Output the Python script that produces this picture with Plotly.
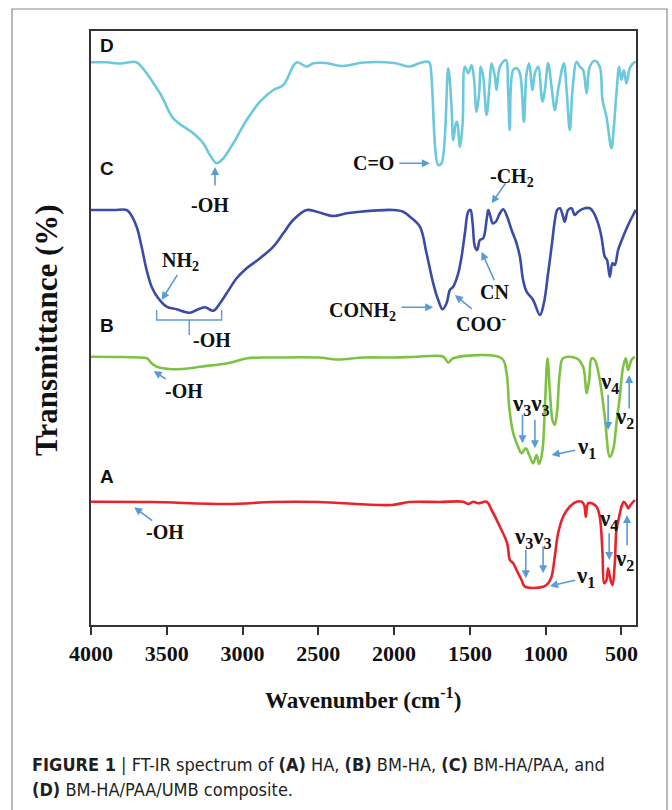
import plotly.graph_objects as go

# ---------------- data ----------------
# transmittance values are stacked/offset spectra in arbitrary units
wn_D = [4000, 3900, 3800, 3750, 3699, 3545, 3457, 3325, 3259, 3215, 3171, 3127, 3061, 2973, 2885, 2797,
        2731, 2643, 2577, 2533, 2450, 2336, 2200, 2000, 1896, 1830, 1775, 1764, 1709, 1687, 1643, 1621,
        1610, 1592, 1584, 1566, 1548, 1533, 1511, 1489, 1474, 1456, 1439, 1428, 1412, 1390, 1368, 1357,
        1335, 1324, 1302, 1263, 1248, 1237, 1215, 1192, 1170, 1144, 1126, 1109, 1087, 1071, 1050, 1021,
        1005, 984, 961, 939, 918, 880, 862, 841, 823, 796, 775, 753, 730, 709, 676, 643, 625, 599, 566,
        550, 533, 515, 500, 484, 467, 445, 423, 405]
T_D = [562.7, 562.7, 561.5, 562.7, 562.7, 531.7, 506.7, 491.7, 481.7, 470, 461.7, 466.7, 481.7, 505, 523.3, 535,
       540, 562.7, 558.3, 561.7, 562, 559, 562.5, 562, 558.5, 562, 563.3, 561.7, 460, 461.7, 556.7, 518.3,
       485, 501.7, 503.3, 478.3, 501.7, 558.3, 551.7, 560, 548.3, 513.3, 531.7, 558.3, 548.3, 510, 545, 561.7,
       548.3, 535, 558.3, 565, 535, 495, 555, 556.7, 551.7, 503.3, 551.7, 561.7, 535, 551.7, 558.3, 523.3,
       535, 561.7, 538.3, 515, 535, 561.7, 535, 495, 535, 563.3, 558.3, 555, 531.7, 558.3, 564.3, 558.3, 525, 508.3, 476.7,
       498.3, 531.7, 558.3, 545, 555, 541.7, 556.7, 561.7, 563.3]

wn_C = [4000, 3850, 3765, 3743, 3699, 3666, 3633, 3600, 3556, 3501, 3435, 3347, 3303, 3248, 3193, 3149,
        3105, 3039, 2973, 2885, 2797, 2731, 2666, 2577, 2511, 2402, 2313, 2226, 2006, 1940, 1896, 1830,
        1786, 1742, 1709, 1680, 1654, 1632, 1610, 1577, 1555, 1533, 1511, 1496, 1482, 1467, 1452, 1434,
        1412, 1390, 1379, 1364, 1350, 1329, 1302, 1280, 1254, 1225, 1192, 1170, 1149, 1126, 1083, 1038,
        1012, 984, 961, 939, 924, 906, 885, 874, 852, 829, 808, 786, 742, 709, 687, 654, 632, 610, 595,
        577, 559, 544, 522, 489, 456, 423, 405]
T_C = [415, 415, 415, 411.7, 398.3, 378.3, 355, 338.3, 326.7, 318.3, 315.7, 312.3, 315, 317.7, 314.3, 321.7,
       331.7, 346.7, 356.7, 366.7, 378.3, 391.7, 405, 415, 413.3, 409, 411.7, 413.3, 415, 413.3, 408.3, 398.3,
       371.7, 341.7, 325, 315.7, 321.7, 335, 338.3, 351.7, 368.3, 391.7, 413.3, 415, 401.7, 378.3, 375, 385,
       386.7, 405, 415, 408.3, 401.7, 403.3, 411.7, 415.7, 408.3, 395, 381.7, 368.3, 345, 333.3, 325, 310,
       321.7, 351.7, 378.3, 405, 415, 416.7, 408.3, 403.3, 415, 416.7, 410, 413.3, 416.7, 416.7, 413.3, 401.7, 388.3, 368.3, 365,
       348.3, 361.7, 360, 375, 388.3, 400, 410, 415]

wn_B = [4000, 3800, 3660, 3630, 3600, 3566, 3500, 3435, 3347, 3280, 3100, 2970, 2800, 2500, 2377, 2200,
        2000, 1850, 1676, 1643, 1610, 1291, 1258, 1241, 1214, 1182, 1159, 1131, 1109, 1083, 1060, 1043,
        1021, 1005, 988, 973, 955, 940, 924, 907, 885, 796, 753, 730, 713, 697, 676, 643, 610, 577, 555,
        533, 511, 489, 471, 456, 434, 412]
T_B = [268.3, 268, 267.3, 266.7, 261.7, 258.3, 256.3, 255.7, 256.7, 258.3, 261.7, 266.7, 267.5, 267.5, 265.5, 267.5,
       267.5, 268.3, 268.3, 262.5, 266.7, 266.7, 251.7, 218.3, 191.7, 178.3, 171.7, 176.7, 170, 161.7, 170, 161,
       175, 218.3, 266.7, 235, 205, 200, 215, 251.7, 266.7, 266.7, 258.3, 231.7, 245, 266.7, 265, 245, 208.3, 168.3, 175,
       201.7, 228.3, 258.3, 266.7, 255, 265, 268.3]

wn_A = [4000, 3600, 3098, 2800, 2500, 2016, 1900, 1700, 1544, 1511, 1478, 1445, 1390, 1357, 1302, 1254,
        1236, 1214, 1192, 1159, 1137, 1017, 984, 961, 940, 918, 885, 841, 796, 763, 746, 735, 720, 697,
        664, 643, 625, 614, 599, 588, 572, 559, 544, 533, 515, 500, 484, 467, 456, 440, 412]
T_A = [123.3, 123, 121, 123, 123, 120, 123, 123, 123.3, 121, 123.3, 121.7, 123.3, 115, 98.3, 81.7,
       65, 61.7, 55, 45, 38.3, 38.3, 41.7, 48.3, 68.3, 91.7, 108.3, 118.3, 123.3, 123.3, 120, 108.3, 121.7, 121.7,
       118.3, 108.3, 71.7, 41.7, 45, 56.7, 45, 40, 61.7, 95, 108.3, 118.3, 123.3, 120, 116.7, 120, 125]

x_ticks = [4000, 3500, 3000, 2500, 2000, 1500, 1000, 500]
panel_labels = ["D", "C", "B", "A"]

# ---------------- figure ----------------
SERIF = "Liberation Serif, Times New Roman, serif"
ARROW = "#5B9BD5"
LBL = 20   # size of band labels
NU = 23    # size of nu labels

fig = go.Figure()
for wn, t, col in [(wn_A, T_A, "#E8232A"), (wn_B, T_B, "#7DC243"),
                   (wn_C, T_C, "#3B4BA8"), (wn_D, T_D, "#6CC9DC")]:
    fig.add_trace(go.Scatter(x=wn, y=t, mode="lines", line=dict(color=col, width=2.6),
                             line_shape="spline", hoverinfo="skip", showlegend=False))

ann = []

def text(x, y, s, size=LBL, font=SERIF):
    ann.append(dict(x=x, y=y, xref="x", yref="y", text=s, showarrow=False,
                    xanchor="center", yanchor="middle",
                    font=dict(family=font, size=size, color="#111")))

def arrow(x0, y0, x1, y1):
    ann.append(dict(x=x1, y=y1, ax=x0, ay=y0, xref="x", yref="y", axref="x", ayref="y",
                    text="", showarrow=True, arrowhead=2, arrowsize=1, arrowwidth=1.6,
                    arrowcolor=ARROW, standoff=0, startstandoff=0))

# panel letters
for lab, y in zip(panel_labels, [580, 456.7, 300, 148.3]):
    text(3893, y, "<b>%s</b>" % lab, size=19, font="Liberation Sans, Arial, sans-serif")

# D
text(3215, 420, "<b>-OH</b>")
arrow(3182, 438, 3182, 458)
text(2133, 461.7, "<b>C=O</b>")
arrow(1975, 461.7, 1764, 461.7)
# C
text(1223, 448, "<b>-CH<sub>2</sub></b>")
arrow(1258, 443.3, 1357, 421.7)
text(3408, 363.3, "<b>NH<sub>2</sub></b>")
arrow(3424, 351.7, 3534, 325)
text(3199, 285, "<b>-OH</b>")
text(2206, 313.3, "<b>CONH<sub>2</sub></b>")
arrow(1962, 317.7, 1742, 317.7)
text(1421, 301.7, "<b>COO<sup>-</sup></b>")
arrow(1478, 315, 1599, 330)
text(1335, 333.3, "<b>CN</b>")
arrow(1335, 343.3, 1423, 373.3)
# B
text(3387, 234, "<b>-OH</b>")
arrow(3497, 245, 3586, 254)
text(1098, 220, "<b>ν<sub>3</sub>ν<sub>3</sub></b>", size=NU)
arrow(1153, 211.7, 1153, 181.7)
arrow(1071, 206.7, 1071, 176.7)
text(728, 176.7, "<b>ν<sub>1</sub></b>", size=NU)
arrow(796, 175, 961, 170)
text(577, 241.7, "<b>ν<sub>4</sub></b>", size=NU)
arrow(588, 231.7, 588, 195)
text(478, 206.7, "<b>ν<sub>2</sub></b>", size=NU)
arrow(449, 215, 449, 250)
# A
text(3515, 93.3, "<b>-OH</b>")
arrow(3586, 103.3, 3715, 117.7)
text(1085, 86.7, "<b>ν<sub>3</sub>ν<sub>3</sub></b>", size=NU)
arrow(1131, 76.7, 1131, 46.7)
arrow(1017, 80, 1017, 51.7)
text(735, 48.3, "<b>ν<sub>1</sub></b>", size=NU)
arrow(796, 45, 972, 39)
text(583, 105, "<b>ν<sub>4</sub></b>", size=NU)
arrow(581, 93.3, 581, 65)
text(478, 65, "<b>ν<sub>2</sub></b>", size=NU)
arrow(463, 78.3, 463, 110)

L, R, T, B = 91, 636, 31, 625
def px(x):
    return (x - L) / (R - L)
def py(y):
    return (B - y) / (B - T)

# axis titles
ann.append(dict(x=px(363), y=py(698), xref="paper", yref="paper", xanchor="center", yanchor="middle",
                text="<b>Wavenumber (cm<sup>-1</sup>)</b>",
                showarrow=False, font=dict(family=SERIF, size=23, color="#111")))
ann.append(dict(x=px(46), y=py(330), xref="paper", yref="paper", xanchor="center", yanchor="middle",
                text="<b>Transmittance (%)</b>",
                showarrow=False, textangle=-90, font=dict(family=SERIF, size=31, color="#111")))
# caption
CAP = "Liberation Sans Narrow, DejaVu Sans Condensed, Arial Narrow, sans-serif"
ann.append(dict(x=px(30), y=py(764), xref="paper", yref="paper", showarrow=False, xanchor="left", yanchor="middle",
                text="<b>FIGURE 1</b> | FT-IR spectrum of <b>(A)</b> HA, <b>(B)</b> BM-HA, <b>(C)</b> BM-HA/PAA, and",
                font=dict(family=CAP, size=18, color="#231f20")))
ann.append(dict(x=px(30), y=py(789), xref="paper", yref="paper", showarrow=False, xanchor="left", yanchor="middle",
                text="<b>(D)</b> BM-HA/PAA/UMB composite.",
                font=dict(family=CAP, size=18, color="#231f20")))

shapes = [
    # bracket under the broad -OH band of C
    dict(type="path", xref="x", yref="y",
         path="M 3567,315 L 3567,305 L 3138,305 L 3138,315 M 3352,305 L 3352,290",
         line=dict(color=ARROW, width=1.4)),
    # outer figure frame
    dict(type="rect", xref="paper", yref="paper",
         x0=px(12), x1=px(667), y0=py(830), y1=py(9),
         line=dict(color="#8a8a8a", width=1.2), layer="below"),
]

fig.update_layout(
    width=672, height=810,
    margin=dict(l=L, r=672 - R, t=T, b=810 - B),
    paper_bgcolor="white", plot_bgcolor="white",
    annotations=ann, shapes=shapes,
    xaxis=dict(range=[4000, 404], tickvals=x_ticks, ticktext=[str(v) for v in x_ticks],
               ticks="outside", ticklen=8, tickwidth=1.5, tickcolor="#333",
               showline=True, linecolor="#333", linewidth=1.6, mirror=True, showgrid=False, zeroline=False,
               tickfont=dict(family=SERIF, size=22, color="#111", weight="bold")),
    yaxis=dict(range=[0, 594], showticklabels=False, ticks="", showline=True, linecolor="#333",
               linewidth=1.6, mirror=True, showgrid=False, zeroline=False),
)

fig.write_html("out.html")
